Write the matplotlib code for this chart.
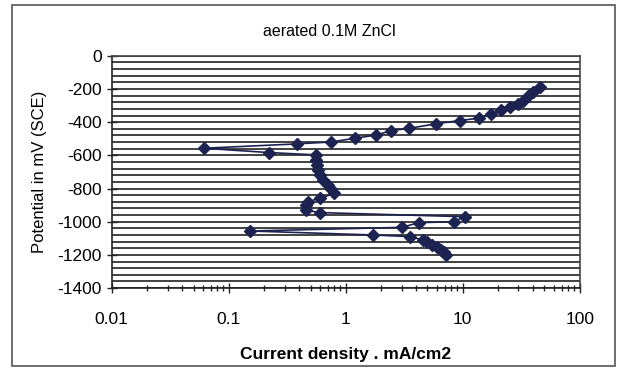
import matplotlib
matplotlib.use("Agg")
import matplotlib.pyplot as plt
from matplotlib.patches import Rectangle
from matplotlib.ticker import LogLocator, NullFormatter, FixedLocator
import numpy as np

plt.rcParams['font.family'] = ['Liberation Sans', 'DejaVu Sans']
plt.rcParams['axes.unicode_minus'] = False

# current density (mA/cm2) and potential (mV vs SCE), in scan order
current = [7.24, 6.9, 6.5, 6.0, 5.5, 5.0, 4.58, 3.52, 1.71, 0.153,
           3.03, 4.2, 8.37, 10.4, 0.6, 0.46, 0.46, 0.476, 0.6, 0.8,
           0.75, 0.7, 0.64, 0.6, 0.58, 0.57, 0.56, 0.554, 0.22, 0.061,
           0.38, 0.755, 1.195, 1.83, 2.46, 3.48, 5.88, 9.42, 13.7, 17.3,
           21.4, 25.2, 29.7, 32.8, 36.1, 40.0, 45.5]
potential = [-1200, -1185, -1170, -1155, -1140, -1125, -1110, -1090, -1080, -1056,
             -1034, -1006, -1000, -970, -945, -930, -900, -879, -859, -829,
             -800, -780, -748, -720, -690, -660, -628, -597, -583, -557,
             -531, -519, -497, -477, -451, -437, -410, -390, -376, -352,
             -326, -310, -292, -270, -245, -215, -185]

title = "aerated 0.1M ZnCl"
xlabel = "Current density . mA/cm2"
ylabel = "Potential in mV (SCE)"
yticks = list(range(-1400, 1, 200))

fig = plt.figure(figsize=(6.28, 3.80), dpi=100)
fig.patches.append(Rectangle((0.019, 0.037), 0.960, 0.950, transform=fig.transFigure,
                             fill=False, edgecolor='#555555', linewidth=1.2))
ax = fig.add_axes([0.178, 0.242, 0.745, 0.611])

ax.set_xscale('log')
ax.set_xlim(0.01, 100)
ax.set_ylim(-1400, 0)
ax.set_yticks(yticks)
ax.yaxis.set_minor_locator(FixedLocator(np.arange(-1400, 1, 40)))
ax.grid(True, which='both', axis='y', color='#333333', linewidth=1.3)
ax.grid(False, axis='x', which='both')
ax.set_axisbelow(True)

ax.set_xticks([0.01, 0.1, 1, 10, 100])
ax.set_xticklabels(["0.01", "0.1", "1", "10", "100"])
ax.xaxis.set_minor_locator(LogLocator(base=10, subs=np.arange(2, 10)))
ax.xaxis.set_minor_formatter(NullFormatter())

ax.tick_params(axis='both', which='major', direction='inout', length=7, width=1,
               labelsize=12.5, color='#222222')
ax.tick_params(axis='x', which='minor', direction='inout', length=4, width=1, color='#222222')
ax.tick_params(axis='y', which='minor', length=0)
ax.tick_params(axis='x', pad=14)

for s in ax.spines.values():
    s.set_color('#444444')
    s.set_linewidth(1.2)
ax.spines['left'].set_color('#222222')
ax.spines['bottom'].set_color('#222222')

ax.plot(current, potential, color='#1c2350', linewidth=1.2, marker='D',
        markersize=6.5, markerfacecolor='#1c2350', markeredgecolor='#1c2350', zorder=3)

fig.text(0.525, 0.918, title, ha='center', va='center', fontsize=11.5)
ax.set_xlabel(xlabel, fontsize=12.5, fontweight='bold', labelpad=14)
ax.set_ylabel(ylabel, fontsize=12, labelpad=8)

fig.savefig("out.png", dpi=100)
